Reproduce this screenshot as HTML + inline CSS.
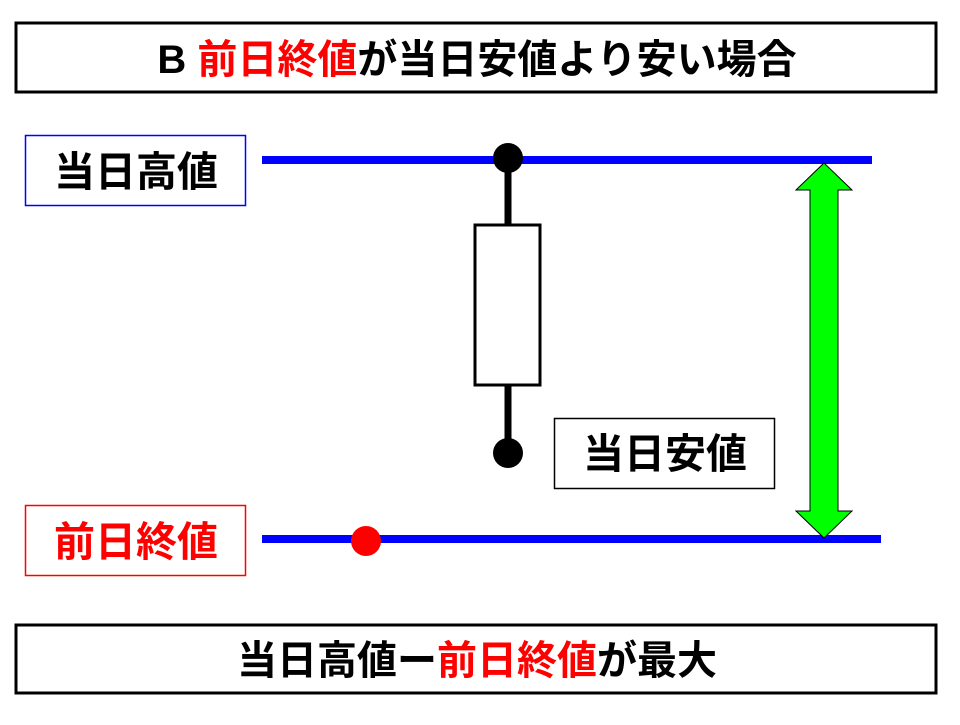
<!DOCTYPE html>
<html><head><meta charset="utf-8"><style>
body{margin:0;background:#fff;width:960px;height:720px;overflow:hidden}
svg text{font-family:"Liberation Sans","Noto Sans CJK JP",sans-serif;font-weight:bold}
</style></head><body>
<svg width="960" height="720" xmlns="http://www.w3.org/2000/svg">
<rect x="16" y="23" width="920" height="69" fill="#fff" stroke="#000" stroke-width="3"/>
<text x="477" y="73" font-size="40" text-anchor="middle">B <tspan fill="#f00">前日終値</tspan>が当日安値より安い場合</text>
<rect x="16" y="625" width="920" height="68" fill="#fff" stroke="#000" stroke-width="3"/>
<text x="477" y="674" font-size="40" text-anchor="middle">当日高値ー<tspan fill="#f00">前日終値</tspan>が最大</text>
<rect x="25.5" y="135.5" width="220" height="70" fill="#fff" stroke="#00f" stroke-width="1.5"/>
<text x="136" y="186" font-size="41" text-anchor="middle">当日高値</text>
<rect x="25.5" y="505.5" width="220" height="70" fill="#fff" stroke="#f00" stroke-width="1.5"/>
<text x="136" y="556" font-size="41" text-anchor="middle" fill="#f00">前日終値</text>
<line x1="262" y1="160" x2="872" y2="160" stroke="#00f" stroke-width="8"/>
<line x1="262" y1="539" x2="881" y2="539" stroke="#00f" stroke-width="8"/>
<line x1="508" y1="158" x2="508" y2="453" stroke="#000" stroke-width="7"/>
<rect x="475" y="225" width="65" height="160" fill="#fff" stroke="#000" stroke-width="3"/>
<circle cx="508" cy="158" r="15" fill="#000"/>
<circle cx="508" cy="453" r="15" fill="#000"/>
<circle cx="366" cy="541" r="15" fill="#f00"/>
<rect x="554.5" y="418.5" width="220" height="70" fill="#fff" stroke="#000" stroke-width="1.5"/>
<text x="665" y="468" font-size="41" text-anchor="middle">当日安値</text>
<polygon points="824,163 852,190 838,190 838,511 852,511 824,538 796,511 810,511 810,190 796,190" fill="#0f0" stroke="#000" stroke-width="1"/>
</svg>
</body></html>
